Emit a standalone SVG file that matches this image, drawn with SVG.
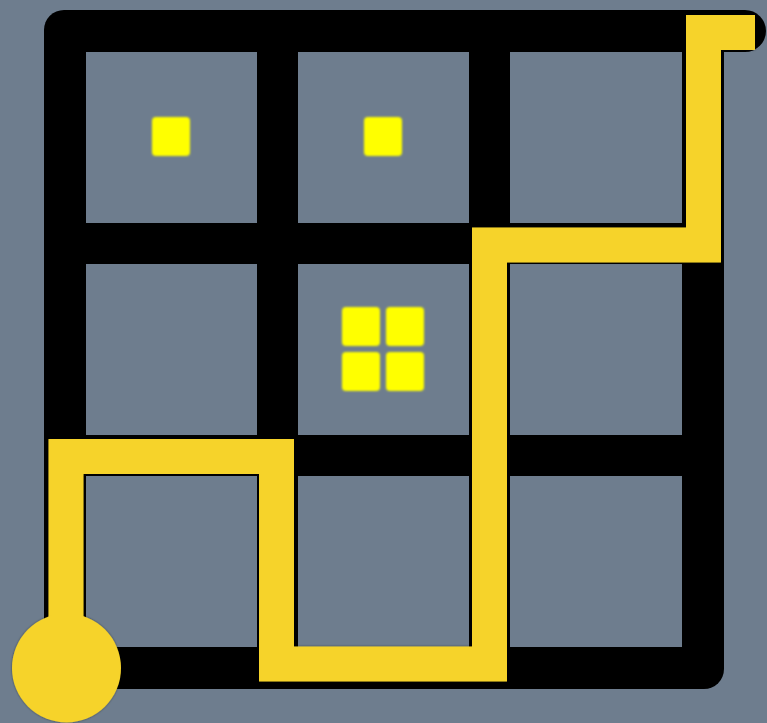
<svg xmlns="http://www.w3.org/2000/svg" width="767" height="723" viewBox="0 0 767 723">
  <defs>
    <style>
      .cell { fill: #6e7d8e; }
      .dot { fill: #ffff00; filter: url(#soft); }
      .path { fill: none; stroke: #f6d32b; stroke-width: 35; stroke-linejoin: miter; stroke-linecap: butt; }
    </style>
    <filter id="soft" x="-20%" y="-20%" width="140%" height="140%">
      <feGaussianBlur stdDeviation="0.8"/>
    </filter>
    <filter id="shadow" x="-10%" y="-10%" width="120%" height="120%">
      <feDropShadow dx="0" dy="0" stdDeviation="1.2" flood-color="#000" flood-opacity="0.5"/>
    </filter>
  </defs>
  <rect width="767" height="723" fill="#6e7d8e"/>
  <g id="board">
    <rect x="44" y="10" width="680" height="679" rx="20" fill="#000"/>
    <rect x="690" y="10" width="55" height="42" fill="#000"/>
    <circle cx="745" cy="31" r="21" fill="#000"/>
  </g>
  <g id="cells">
    <rect id="c00" class="cell" x="86" y="52" width="171" height="171"/>
    <rect id="c01" class="cell" x="298" y="52" width="171" height="171"/>
    <rect id="c02" class="cell" x="510" y="52" width="172" height="171"/>
    <rect id="c10" class="cell" x="86" y="264" width="171" height="171"/>
    <rect id="c11" class="cell" x="298" y="264" width="171" height="171"/>
    <rect id="c12" class="cell" x="510" y="264" width="172" height="171"/>
    <rect id="c20" class="cell" x="86" y="476" width="171" height="171"/>
    <rect id="c21" class="cell" x="298" y="476" width="171" height="171"/>
    <rect id="c22" class="cell" x="510" y="476" width="172" height="171"/>
  </g>
  <g id="dots">
    <rect class="dot" x="152" y="117" width="38" height="39" rx="4"/>
    <rect class="dot" x="364" y="117" width="38" height="39" rx="4"/>
    <rect class="dot" x="342" y="307" width="38" height="39" rx="4"/>
    <rect class="dot" x="386" y="307" width="38" height="39" rx="4"/>
    <rect class="dot" x="342" y="352" width="38" height="39" rx="4"/>
    <rect class="dot" x="386" y="352" width="38" height="39" rx="4"/>
  </g>
  <g id="connectors" filter="url(#shadow)">
    <polyline class="path" points="66,668 66,456.5 276.5,456.5 276.5,664 489.5,664 489.5,245 703.5,245 703.5,32.5 755,32.5"/>
    <circle id="start" cx="66.5" cy="668" r="54.5" fill="#f6d32b"/>
  </g>
</svg>
